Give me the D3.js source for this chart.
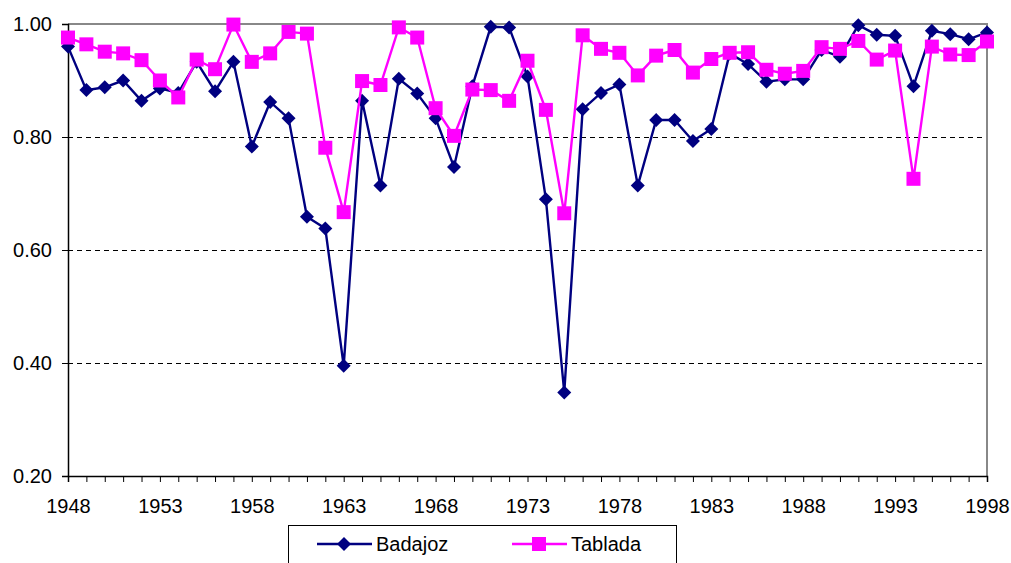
<!DOCTYPE html>
<html>
<head>
<meta charset="utf-8">
<script src="https://cdn.jsdelivr.net/npm/d3@7"></script>
<style>
  body { margin: 0; background: #fff; }
  svg text { font-family: "Liberation Sans", Arial, sans-serif; font-size: 20px; fill: #000; }
</style>
</head>
<body>
<svg id="chart" width="1011" height="563"></svg>
<script>
var years = d3.range(1948, 1999);
var badajoz = [0.960, 0.883, 0.888, 0.900, 0.864, 0.886, 0.878, 0.933, 0.881, 0.933,
               0.783, 0.862, 0.833, 0.659, 0.638, 0.395, 0.864, 0.714, 0.903, 0.877,
               0.833, 0.747, 0.890, 0.995, 0.994, 0.907, 0.690, 0.348, 0.849, 0.878,
               0.893, 0.714, 0.830, 0.830, 0.793, 0.814, 0.948, 0.929, 0.898, 0.902,
               0.902, 0.954, 0.942, 0.998, 0.981, 0.979, 0.890, 0.988, 0.982, 0.973, 0.985];
var tablada = [0.976, 0.964, 0.951, 0.948, 0.936, 0.900, 0.870, 0.937, 0.920, 0.999,
               0.933, 0.948, 0.986, 0.983, 0.781, 0.667, 0.899, 0.892, 0.994, 0.976,
               0.851, 0.802, 0.884, 0.883, 0.864, 0.935, 0.848, 0.665, 0.980, 0.956,
               0.949, 0.909, 0.944, 0.954, 0.914, 0.938, 0.949, 0.950, 0.919, 0.912,
               0.917, 0.959, 0.956, 0.970, 0.937, 0.953, 0.726, 0.960, 0.946, 0.945, 0.969];
var y_ticks = [0.20, 0.40, 0.60, 0.80, 1.00];
var x_labels = [1948, 1953, 1958, 1963, 1968, 1973, 1978, 1983, 1988, 1993, 1998];
var series_names = ["Badajoz", "Tablada"];

var svg_canvas = d3.select("#chart");
var x = d3.scaleLinear().domain([1948, 1998]).range([68, 987]);
var y = d3.scaleLinear().domain([0.2, 1.0]).range([476, 24]);

// grid lines (dashed)
svg_canvas.append("g").selectAll("line")
   .data(y_ticks.filter(function(d) { return d > 0.2 && d < 1.0; }))
   .enter().append("line")
   .attr("x1", x(1948)).attr("x2", x(1998))
   .attr("y1", function(d) { return Math.round(y(d)) + 0.5; })
   .attr("y2", function(d) { return Math.round(y(d)) + 0.5; })
   .attr("stroke", "#000").attr("stroke-dasharray", "5 4");

// plot frame: grey top and right
svg_canvas.append("path")
   .attr("d", "M" + x(1948) + "," + y(1.0) + "H" + x(1998) + "V" + y(0.2))
   .attr("fill", "none").attr("stroke", "#888").attr("stroke-width", 2);

// y axis
var y_axis = svg_canvas.append("g").attr("transform", "translate(" + x(1948) + ",0)")
   .call(d3.axisLeft(y).tickValues(y_ticks).tickFormat(d3.format(".2f")).tickSize(6).tickPadding(10));
y_axis.select(".domain").attr("stroke", "#000").attr("stroke-width", 1.5);
y_axis.selectAll("line").attr("stroke", "#000");
y_axis.selectAll("text").style("font-size", "20px").style("font-family", "Liberation Sans, Arial, sans-serif");

// x axis
var x_axis = svg_canvas.append("g").attr("transform", "translate(0," + y(0.2) + ")")
   .call(d3.axisBottom(x).tickValues(years).tickSize(6).tickPadding(17)
      .tickFormat(function(d) { return x_labels.indexOf(d) >= 0 ? d : ""; }));
x_axis.select(".domain").attr("stroke", "#000").attr("stroke-width", 1.5);
x_axis.selectAll("line").attr("stroke", "#000");
x_axis.selectAll("text").style("font-size", "20px").style("font-family", "Liberation Sans, Arial, sans-serif");

var line_gen = d3.line().x(function(d, i) { return x(years[i]); }).y(function(d) { return y(d); });
// wide diamond, like a rotated square
var diamond = function() { return "M0,-7L7,0L0,7L-7,0Z"; };
var square = d3.symbol().type(d3.symbolSquare).size(196);

// Badajoz
svg_canvas.append("path").datum(badajoz).attr("d", line_gen)
   .attr("fill", "none").attr("stroke", "#000080").attr("stroke-width", 2.4);
svg_canvas.append("g").selectAll("path").data(badajoz).enter().append("path")
   .attr("d", diamond)
   .attr("transform", function(d, i) { return "translate(" + x(years[i]) + "," + y(d) + ")"; })
   .attr("fill", "#000080");

// Tablada
svg_canvas.append("path").datum(tablada).attr("d", line_gen)
   .attr("fill", "none").attr("stroke", "#ff00ff").attr("stroke-width", 2.4);
svg_canvas.append("g").selectAll("path").data(tablada).enter().append("path")
   .attr("d", square)
   .attr("transform", function(d, i) { return "translate(" + x(years[i]) + "," + y(d) + ")"; })
   .attr("fill", "#ff00ff");

// legend
var legend = svg_canvas.append("g").attr("transform", "translate(288,525)");
legend.append("rect").attr("x", 0.5).attr("y", 0.5).attr("width", 388).attr("height", 50)
   .attr("fill", "#fff").attr("stroke", "#000");
var leg_items = [{ "name": series_names[0], "color": "#000080", "sym": diamond, "x": 29 },
                 { "name": series_names[1], "color": "#ff00ff", "sym": square, "x": 224 }];
var item = legend.selectAll("g.item").data(leg_items).enter().append("g").attr("class", "item")
   .attr("transform", function(d) { return "translate(" + d.x + ",19)"; });
item.append("line").attr("x1", 0).attr("x2", 55).attr("y1", 0).attr("y2", 0)
   .attr("stroke", function(d) { return d.color; }).attr("stroke-width", 2.4);
item.append("path").attr("d", function(d) { return d.sym(); })
   .attr("transform", "translate(27,0)").attr("fill", function(d) { return d.color; });
item.append("text").attr("x", 59).attr("y", 7).text(function(d) { return d.name; });
</script>
</body>
</html>
